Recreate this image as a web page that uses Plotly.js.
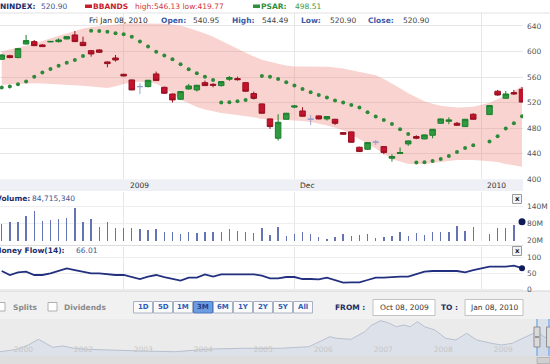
<!DOCTYPE html>
<html><head><meta charset="utf-8">
<script src="https://cdn.plot.ly/plotly-3.0.1.min.js"></script>
<style>html,body{margin:0;padding:0;background:#fff;overflow:hidden}#chart{width:550px;height:364px}</style>
</head><body><div id="chart"></div><script>
// ---------- data ----------
const dates = ['2009-10-12','2009-10-13','2009-10-14','2009-10-15','2009-10-16','2009-10-19','2009-10-20','2009-10-21','2009-10-22','2009-10-23','2009-10-26','2009-10-27','2009-10-28','2009-10-29','2009-10-30',
'2009-11-02','2009-11-03','2009-11-04','2009-11-05','2009-11-06','2009-11-09','2009-11-10','2009-11-11','2009-11-12','2009-11-13','2009-11-16','2009-11-17','2009-11-18','2009-11-19','2009-11-20','2009-11-23','2009-11-24','2009-11-25','2009-11-26','2009-11-27','2009-11-30',
'2009-12-01','2009-12-02','2009-12-03','2009-12-04','2009-12-07','2009-12-08','2009-12-09','2009-12-10','2009-12-11','2009-12-14','2009-12-15','2009-12-16','2009-12-17','2009-12-18','2009-12-21','2009-12-22','2009-12-23','2009-12-24','2009-12-25','2009-12-28','2009-12-29','2009-12-30','2009-12-31',
'2010-01-04','2010-01-05','2010-01-06','2010-01-07','2010-01-08'];
const open  = [587.9,593.5,590.5,611.8,615.5,610.3,615.0,615.5,619.7,625.9,614.4,601.4,602.5,583.7,589.9,564.4,555.5,545.4,545.1,564.9,544.0,533.6,525.3,541.4,539.9,551.3,548.7,546.7,556.6,557.6,551.3,534.2,518.0,494.5,464.3,494.0,513.0,507.0,494.3,499.2,494.5,494.0,473.1,474.2,450.2,447.0,458.3,451.2,433.0,440.3,455.4,466.9,463.2,468.9,487.7,490.8,487.7,482.5,501.8,501.3,537.8,526.8,535.7,540.95];
const high  = [595.5,595.0,605.5,625.9,618.1,611.8,616.5,620.7,624.0,632.2,623.3,602.5,603.5,584.5,594.6,565.0,556.0,550.3,555.5,568.6,545.0,534.0,538.0,549.3,547.7,554.5,550.3,553.5,561.8,560.7,552.0,537.3,518.5,495.0,501.8,504.0,516.4,512.8,500.8,500.0,498.7,494.5,473.5,474.5,451.0,458.0,461.6,452.0,439.2,449.7,460.5,468.9,470.0,478.8,495.0,497.0,489.8,494.5,503.4,516.0,539.9,538.3,539.9,544.49];
const low   = [587.0,589.5,589.5,611.0,608.5,607.0,614.5,614.0,619.0,615.0,608.5,592.0,598.0,575.3,584.2,561.0,539.5,533.6,544.0,554.0,534.0,520.1,524.0,539.9,537.3,546.0,544.0,545.1,554.0,554.5,537.0,526.0,503.0,478.9,460.6,493.5,511.2,498.0,485.1,494.0,491.9,485.1,470.0,457.5,443.0,446.0,453.8,439.2,427.7,440.3,452.3,462.7,462.7,464.3,487.0,486.2,483.5,482.0,493.5,500.8,530.5,526.0,532.0,520.90];
const close = [594.6,590.5,604.5,617.1,609.2,607.7,615.8,618.1,623.3,615.5,609.2,596.2,598.8,581.1,586.8,561.8,539.9,545.0,555.0,554.5,534.7,524.2,537.3,546.1,547.2,546.7,547.2,552.9,559.2,556.0,537.8,526.8,503.4,482.5,489.3,503.4,514.8,498.7,494.0,494.5,498.2,487.7,470.5,458.0,443.4,457.5,458.0,441.8,435.6,441.8,460.1,464.3,469.5,478.3,494.5,492.9,484.6,494.0,494.0,515.4,532.0,533.6,533.6,520.90];
const dojiDates = ['2009-11-04','2009-12-03','2009-12-15'];
const bbUpper = [600.3,602.8,605.5,608.9,612.4,616.8,620.9,624.8,628.4,632.5,636.2,638.5,639.9,641.2,642.4,643.3,644.1,644.2,644.2,643.8,643.3,642.1,640.5,637.0,632.8,628.2,623.1,617.5,610.7,604.4,597.8,592.2,587.0,583.3,580.7,578.1,576.4,576.4,576.4,576.4,576.1,574.9,573.5,570.8,568.2,565.6,563.0,557.1,550.4,542.6,534.6,528.3,522.0,518.3,515.2,513.7,512.4,512.8,513.6,520.0,525.0,531.0,538.0,546.13];
const bbLower = [547.9,548.6,549.3,550.0,550.2,549.8,549.2,548.9,548.7,547.6,546.4,545.3,544.0,543.0,545.5,549.2,552.2,552.6,552.4,549.5,543.2,534.4,524.6,518.9,513.0,509.4,506.0,503.8,502.1,500.6,499.4,497.3,494.5,493.4,492.9,492.9,492.6,491.2,489.5,487.0,484.2,480.5,476.6,470.0,463.0,455.7,448.2,439.8,431.5,427.7,424.1,423.8,423.6,425.7,427.4,429.2,430.4,430.4,430.4,428.2,427.0,424.0,421.5,419.77];
const psar = [543.5,545.1,548.7,552.9,560.7,567.0,572.7,577.9,582.6,586.8,593.1,632.7,632.2,631.1,628.5,627.0,623.3,615.5,607.7,599.8,593.6,587.9,580.0,572.2,566.0,560.7,555.5,520.1,520.6,522.1,524.2,527.9,561.8,560.7,557.1,551.9,546.7,541.4,536.2,532.0,527.9,523.2,520.1,516.4,512.2,505.0,498.2,493.0,486.7,478.3,471.0,426.2,426.7,428.8,431.9,436.6,442.9,449.1,453.3,459.0,467.4,479.4,487.7,498.51];
const volumeM = [75.5,82.5,82.5,105.9,122.5,87.1,90.7,94.2,96.7,134.1,84.7,93.1,67.0,84.7,63.5,61.3,61.3,58.9,55.3,58.9,47.2,49.3,40.1,47.2,46.5,47.8,46.9,47.5,58.9,51.8,47.2,43.7,63.5,37.7,67.0,35.2,40.1,49.3,40.1,31.7,23.5,29.5,40.1,35.2,37.7,41.2,28.1,31.7,35.2,49.3,35.2,43.7,37.7,47.2,49.3,49.3,69.5,51.8,67.0,41.2,63.5,63.5,73.0,84.71534];
const moneyFlow = [57.2,44.7,53.0,55.1,44.7,44.7,49.9,57.2,65.5,60.3,55.1,49.9,49.9,46.8,44.7,44.7,39.5,32.2,39.5,44.7,38.4,32.2,27.0,36.4,36.4,46.8,39.5,46.8,46.8,46.8,46.8,46.8,42.6,34.3,34.3,38.4,38.4,32.2,32.2,31.2,36.4,29.1,20.7,21.8,21.8,29.1,36.4,36.4,38.4,39.5,39.5,46.8,55.1,57.2,57.2,57.2,57.2,53.0,60.3,70.7,70.7,70.7,73.9,66.01];
const monthTicks = ['2009-11-02','2009-12-01','2010-01-01'];
const monthLabels = ['2009','Dec','2010'];
const priceTicks = [400,440,480,520,560,600,640];
const volTicks = [20,80,140];
const mfTicks = [0,50,100];
const navT   = [-0.39,-0.10,0.08,0.25,0.37,0.49,0.66,0.84,1.07,1.37,1.95,2.53,2.83,3.12,3.70,4.29,4.76,4.99,5.11,5.22,5.46,5.69,5.81,5.96,6.10,6.22,6.34,6.45,6.57,6.69,6.86,7.04,7.21,7.39,7.56,7.80,7.97,8.15,8.27,8.44,8.56,8.68,8.78];
const navVal = [364,396,454,530,477,423,441,410,396,387,374,364,387,400,410,410,431,521,565,544,530,632,722,780,745,699,722,699,766,699,655,544,521,611,521,477,454,477,521,588,632,565,521];
const navYears = ['2000','2002','2003','2004','2005','2006','2007','2008','2009'];
const rangeButtons = ['1D','5D','1M','3M','6M','1Y','2Y','5Y','All'];
const activeButton = '3M';

// ---------- helpers ----------
function slotOf(d){
  const t0 = Date.parse(dates[0]+'T00:00:00Z'), t = Date.parse(d+'T00:00:00Z');
  let n = 0;
  for(let c = t0; c < t; c += 86400000){ const w = new Date(c).getUTCDay(); if(w!==0 && w!==6) n++; }
  return n;
}
const xs = dates.map(slotOf);
const last = dates.length-1;
const isDoji = dates.map(d => dojiDates.includes(d));
const pick = (arr, f) => arr.filter((_,i)=>f(i));
const normal = i => !isDoji[i], doji = i => isDoji[i];

const W=550, H=364;
const PX = x => x/W, PY = y => 1 - y/H;
const FONT = 'DejaVu Sans, Verdana, sans-serif';
const annots = [], shapes = [];
function txt(x,y,text,color,opts){
  opts = opts||{};
  annots.push({xref:'paper',yref:'paper',x:PX(x),y:PY(y),text:opts.bold?'<b>'+text+'</b>':text,showarrow:false,
    xanchor:opts.anchor||'left',yanchor:'middle',borderpad:0,
    font:{family:FONT,size:opts.size||7.5,color:color}});
}
function rect(x0,y0,x1,y1,fill,line,lw,layer){
  shapes.push({type:'rect',xref:'paper',yref:'paper',x0:PX(x0),x1:PX(x1),y0:PY(y1),y1:PY(y0),
    fillcolor:fill,line:{color:line||'rgba(0,0,0,0)',width:line?(lw||1):0},layer:layer||'below'});
}
function hline(x0,x1,y,color,layer){
  shapes.push({type:'line',xref:'paper',yref:'paper',x0:PX(x0),x1:PX(x1),y0:PY(y),y1:PY(y),line:{color:color,width:1},layer:layer||'below'});
}
function vline(x,y0,y1,color,w){
  shapes.push({type:'line',xref:'paper',yref:'paper',x0:PX(x),x1:PX(x),y0:PY(y0),y1:PY(y1),line:{color:color,width:w||1},layer:'above'});
}

// ---------- traces ----------
const GREEN='#2f9a40', GREEN_L='#1d7f2e', RED='#c3132e', RED_L='#98101f';
const traces = [
  {type:'scatter',mode:'lines',x:xs,y:bbUpper,line:{width:0,color:'rgba(0,0,0,0)'},xaxis:'x',yaxis:'y',hoverinfo:'skip'},
  {type:'scatter',mode:'lines',x:xs,y:bbLower,line:{width:0,color:'rgba(0,0,0,0)'},fill:'tonexty',fillcolor:'rgba(236,120,110,0.33)',xaxis:'x',yaxis:'y'},
  {type:'scatter',mode:'markers',x:xs,y:psar,marker:{color:'#2d8a3a',size:4,symbol:'circle'},xaxis:'x',yaxis:'y'},
  {type:'candlestick',x:pick(xs,normal),open:pick(open,normal),high:pick(high,normal),low:pick(low,normal),close:pick(close,normal),
   increasing:{line:{color:GREEN_L,width:1},fillcolor:GREEN},decreasing:{line:{color:RED_L,width:1},fillcolor:RED},
   xaxis:'x',yaxis:'y5',whiskerwidth:0},
  {type:'candlestick',x:pick(xs,doji),open:pick(open,doji),high:pick(high,doji),low:pick(low,doji),close:pick(close,doji),
   increasing:{line:{color:'#9ca0cc',width:1},fillcolor:'#9ca0cc'},decreasing:{line:{color:'#9ca0cc',width:1},fillcolor:'#9ca0cc'},
   xaxis:'x',yaxis:'y5',whiskerwidth:0},
  {type:'bar',x:xs.slice(0,last),y:volumeM.slice(0,last).map(v=>v*1e6),width:0.17,marker:{color:'#6673b3',line:{width:0}},xaxis:'x2',yaxis:'y2'},
  {type:'scatter',mode:'markers',x:[xs[last]],y:[volumeM[last]*1e6],marker:{color:'#0f1a5c',size:7},cliponaxis:false,xaxis:'x2',yaxis:'y2'},
  {type:'scatter',mode:'lines',x:xs,y:moneyFlow,line:{color:'#22307f',width:1.8},xaxis:'x3',yaxis:'y3'},
  {type:'scatter',mode:'markers',x:[xs[last]],y:[moneyFlow[last]],marker:{color:'#0f1a5c',size:6},cliponaxis:false,xaxis:'x3',yaxis:'y3'},
  {type:'scatter',mode:'lines',x:navT,y:navVal,line:{color:'#b8c0cf',width:1},fill:'tozeroy',fillcolor:'rgba(212,219,232,0.6)',xaxis:'x4',yaxis:'y4'}
];

// ---------- layout pieces ----------
const mainRight = 523;
const xdom = [0, mainRight/W];
const xr = [-0.21, 64.12];
const tickSlots = monthTicks.map(slotOf);
const gx = {domain:xdom,range:xr,tickmode:'array',tickvals:tickSlots,showticklabels:false,showgrid:true,gridcolor:'#e7e7e7',gridwidth:1,zeroline:false,showline:false,ticks:'',fixedrange:true,rangeslider:{visible:false}};
const yfont = {family:FONT,size:7.5,color:'#555'};

// backgrounds
rect(0,179.3,mainRight,191,'#eef0f5');           // x label band
rect(0,291,W,364,'#f1f1f1');                     // bottom control strip
rect(0,319,W,356,'#ebebeb');                     // navigator
rect(0,356,W,364,'#dedede');                     // scrollbar
hline(0,W,13,'#e2e2e2');
hline(0,mainRight,245.5,'#dddddd');
hline(0,W,291,'#d4d4d4');

// x labels of band
monthLabels.forEach((lab,i)=>{
  annots.push({xref:'x',yref:'paper',x:tickSlots[i],y:PY(185.5),xshift:4,text:lab,showarrow:false,xanchor:'left',yanchor:'middle',
    font:{family:FONT,size:7.5,color:'#333'}});
});

// top legend row
txt(-1,6,'NINDEX:','#1b2d6b',{bold:true});
txt(40,6,'520.90','#44548f');
rect(85,4.5,92,8,'#c81e2a',null,0,'above');
txt(92,6,'BBANDS','#c81e2a',{bold:true});
txt(134,6,'high:546.13 low:419.77','#d2353c');
rect(253,4.5,260,8,'#2f8f3a',null,0,'above');
txt(260,6,'PSAR:','#2f8f3a',{bold:true});
txt(294,6,'498.51','#3c9a46');

// info row
txt(88,20.5,'Fri Jan 08, 2010','#2a2a2a');
txt(160,20.5,'Open:','#3c5aa6',{bold:true}); txt(192,20.5,'540.95','#444');
txt(231,20.5,'High:','#3c5aa6',{bold:true}); txt(261,20.5,'544.49','#444');
txt(300,20.5,'Low:','#3c5aa6',{bold:true}); txt(329,20.5,'520.90','#444');
txt(367,20.5,'Close:','#3c5aa6',{bold:true}); txt(402,20.5,'520.90','#444');

// panel labels
txt(-5.5,198.5,'Volume:','#1b2d6b',{bold:true}); txt(31,198.5,'84,715,340','#44548f');
txt(-7,250.5,'Money Flow(14):','#1b2d6b',{bold:true}); txt(75,250.5,'66.01','#44548f');
[199,251].forEach(y=>{
  rect(512.5,y-4.5,521.5,y+4.5,'#f3f3f3','#9a9a9a',1,'above');
  txt(517,y,'x','#222',{bold:true,anchor:'center',size:7});
});

// bottom controls
rect(-3,302.5,5,311,'#ffffff','#b0b0b0',1,'above');
txt(12,307,'Splits','#8a8a8a',{bold:true});
rect(48,302.5,57,311,'#ffffff','#b0b0b0',1,'above');
txt(63,307,'Dividends','#8a8a8a',{bold:true});
rangeButtons.forEach((b,i)=>{
  const x0 = 133.5 + 20*i;
  const on = b===activeButton;
  rect(x0,301.5,x0+19,313,on?'#6d9be0':'#fafafa',on?'#4a78c0':'#a9b2c4',1,'above');
  txt(x0+9.5,307.3,b,on?'#1e3f8c':'#2d5db8',{bold:true,anchor:'center',size:7});
});
txt(334,307.5,'FROM :','#1d2d5d',{bold:true});
rect(373,299.5,435,315.5,'#ffffff','#c2c2c2',1,'above');
txt(404,307.5,'Oct 08, 2009','#333',{anchor:'center'});
txt(440,307.5,'TO :','#1d2d5d',{bold:true});
rect(465,299.5,523,315.5,'#ffffff','#c2c2c2',1,'above');
txt(494,307.5,'Jan 08, 2010','#333',{anchor:'center'});

// navigator handles
rect(537,319,549,356,'rgba(170,195,230,0.25)',null,0,'above');
vline(537,319,356,'#7fb0e8',1.5);
vline(549,319,356,'#7fb0e8',1.5);
rect(534,327,540,347,'#dadada','#8f8f8f',1,'above');
rect(546.5,327,552,347,'#dadada','#8f8f8f',1,'above');
hline(535,539,337,'#555','above');
rect(537,357.5,550,363.5,'#cfcfcf','#b5b5b5',1,'above');

const layout = {
  width:W,height:H,margin:{l:0,r:0,t:0,b:0},paper_bgcolor:'#ffffff',plot_bgcolor:'rgba(0,0,0,0)',
  showlegend:false,hovermode:false,boxgap:0.15,boxgroupgap:0.2,bargap:0,
  font:{family:FONT,size:7.5,color:'#555'},
  xaxis:Object.assign({},gx,{anchor:'y'}),
  yaxis:{domain:[PY(179.3),PY(13)],range:[400,660.3],side:'right',anchor:'x',tickmode:'array',tickvals:priceTicks,
    showgrid:true,gridcolor:'#e7e7e7',zeroline:false,ticks:'',ticklabelstandoff:3,tickfont:yfont,fixedrange:true},
  yaxis5:{overlaying:'y',anchor:'x',range:[400,660.3],visible:false,fixedrange:true},
  xaxis2:Object.assign({},gx,{anchor:'y2',matches:'x'}),
  yaxis2:{domain:[PY(241),PY(192)],range:[16.5e6,189.6e6],side:'right',anchor:'x2',tickmode:'array',
    tickvals:volTicks.map(v=>v*1e6),ticktext:volTicks.map(v=>v+'M'),showgrid:true,gridcolor:'#eeeeee',zeroline:false,ticks:'',ticklabelstandoff:3,tickfont:yfont,fixedrange:true},
  xaxis3:Object.assign({},gx,{anchor:'y3',matches:'x'}),
  yaxis3:{domain:[PY(291),PY(247)],range:[-5.3,132.2],side:'right',anchor:'x3',tickmode:'array',tickvals:mfTicks,
    showgrid:true,gridcolor:'#eeeeee',zeroline:false,ticks:'',ticklabelstandoff:3,tickfont:yfont,fixedrange:true},
  xaxis4:{domain:[0,1],range:[navT[0],navT[navT.length-1]],anchor:'y4',tickmode:'array',tickvals:navYears.map((_,i)=>i),ticktext:navYears,
    ticklabelposition:'inside',showgrid:false,zeroline:false,showline:false,ticks:'',tickfont:{family:FONT,size:7.5,color:'#c6c6c6'},fixedrange:true,rangeslider:{visible:false}},
  yaxis4:{domain:[PY(356),PY(319)],range:[306.6,802.4],anchor:'x4',visible:false,fixedrange:true},
  annotations:annots,shapes:shapes
};
Plotly.newPlot('chart',traces,layout,{staticPlot:true,displayModeBar:false});
</script></body></html>
